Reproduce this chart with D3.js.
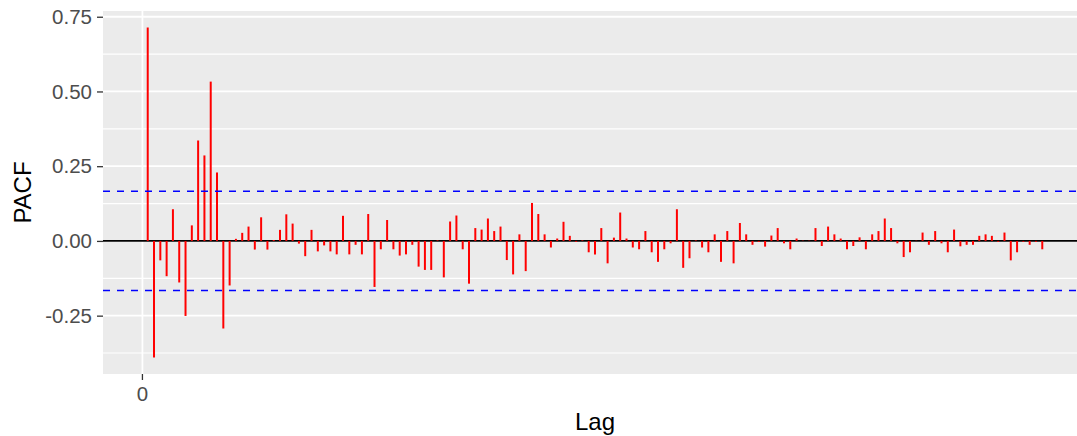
<!DOCTYPE html>
<html>
<head>
<meta charset="utf-8">
<script src="https://cdn.jsdelivr.net/npm/d3@7"></script>
<style>
  html, body { margin: 0; padding: 0; background: #ffffff; }
  svg { display: block; }
</style>
</head>
<body>
<svg id="chart" width="1077" height="436"></svg>
<script>
// ---- data ----
const lags = d3.range(1, 144);
const pacf = [
  0.714, -0.390, -0.065, -0.118, 0.106, -0.139, -0.251, 0.052, 0.336, 0.286,
  0.533, 0.229, -0.293, -0.149, 0.007, 0.027, 0.048, -0.029, 0.079, -0.029,
  0.003, 0.037, 0.089, 0.058, -0.009, -0.051, 0.037, -0.035, -0.015, -0.035,
  -0.045, 0.084, -0.045, -0.013, -0.045, 0.090, -0.154, -0.028, 0.070, -0.028,
  -0.049, -0.045, -0.013, -0.086, -0.097, -0.097, 0.002, -0.122, 0.065, 0.085,
  -0.028, -0.143, 0.043, 0.038, 0.075, 0.033, 0.048, -0.064, -0.112, 0.022,
  -0.101, 0.127, 0.090, 0.022, -0.022, 0.008, 0.064, 0.017, -0.003, 0.002,
  -0.038, -0.045, 0.043, -0.075, 0.011, 0.095, 0.008, -0.022, -0.028, 0.033,
  -0.038, -0.070, -0.028, -0.008, 0.106, -0.090, -0.058, 0.002, -0.022, -0.038,
  0.022, -0.070, 0.033, -0.075, 0.060, 0.022, -0.013, -0.003, -0.019, 0.018,
  0.043, -0.008, -0.028, 0.008, 0.001, 0.001, 0.043, -0.017, 0.048, 0.022,
  0.008, -0.028, -0.017, 0.012, -0.028, 0.022, 0.033, 0.075, 0.043, -0.008,
  -0.054, -0.038, 0.001, 0.028, -0.013, 0.033, -0.008, -0.038, 0.038, -0.018,
  -0.013, -0.013, 0.017, 0.022, 0.017, -0.003, 0.028, -0.065, -0.038, -0.003,
  -0.013, -0.003, -0.028
];
const ciLimit = [0.166, -0.166];
const yTicks = [-0.25, 0, 0.25, 0.5, 0.75];
const yTickLabels = ["-0.25", "0.00", "0.25", "0.50", "0.75"];
const yMinor = [-0.375, -0.125, 0.125, 0.375, 0.625];
const xTicks = [0];
const xTickLabels = ["0"];

// ---- layout ----
const svg = d3.select("#chart");
const panel = { left: 103, right: 1087, top: 11, bottom: 374 };
const font = "'Liberation Sans', Arial, sans-serif";

const xMin = d3.min(lags), xMax = d3.max(lags);
const xPad = (xMax - xMin) * 0.05;
const x = d3.scaleLinear().domain([xMin - xPad, xMax + xPad]).range([panel.left, panel.right]);

const yLo = Math.min(d3.min(pacf), ciLimit[1]);
const yHi = Math.max(d3.max(pacf), ciLimit[0]);
const yPad = (yHi - yLo) * 0.05;
const y = d3.scaleLinear().domain([yLo - yPad, yHi + yPad]).range([panel.bottom, panel.top]);

// panel background
svg.append("rect")
  .attr("x", panel.left).attr("y", panel.top)
  .attr("width", panel.right - panel.left).attr("height", panel.bottom - panel.top)
  .attr("fill", "#EBEBEB");

const grid = svg.append("g");
grid.selectAll("line.minor").data(yMinor).join("line")
  .attr("x1", panel.left).attr("x2", panel.right)
  .attr("y1", d => y(d)).attr("y2", d => y(d))
  .attr("stroke", "#ffffff").attr("stroke-width", 1.2);
grid.selectAll("line.major").data(yTicks).join("line")
  .attr("x1", panel.left).attr("x2", panel.right)
  .attr("y1", d => y(d)).attr("y2", d => y(d))
  .attr("stroke", "#ffffff").attr("stroke-width", 1.8);
grid.selectAll("line.vmajor").data(xTicks).join("line")
  .attr("x1", d => x(d) + 1).attr("x2", d => x(d) + 1)
  .attr("y1", panel.top).attr("y2", panel.bottom)
  .attr("stroke", "#ffffff").attr("stroke-width", 1.8);

// zero line
svg.append("line")
  .attr("x1", panel.left).attr("x2", panel.right)
  .attr("y1", y(0)).attr("y2", y(0))
  .attr("stroke", "#000000").attr("stroke-width", 1.8);

// bars (segments)
svg.append("g").selectAll("line").data(lags).join("line")
  .attr("x1", d => x(d)).attr("x2", d => x(d))
  .attr("y1", y(0)).attr("y2", (d, i) => y(pacf[i]))
  .attr("stroke", "#FF0000").attr("stroke-width", 2);

// confidence limits
svg.append("g").selectAll("line").data(ciLimit).join("line")
  .attr("x1", panel.left).attr("x2", panel.right)
  .attr("y1", d => y(d)).attr("y2", d => y(d))
  .attr("stroke", "#0000FF").attr("stroke-width", 1.6)
  .attr("stroke-dasharray", "7,7");

// y axis
const yAxis = d3.axisLeft(y).tickValues(yTicks)
  .tickFormat((d, i) => yTickLabels[i]).tickSize(6).tickPadding(5);
const gy = svg.append("g").attr("transform", `translate(${panel.left},0)`).call(yAxis);
gy.select(".domain").remove();
gy.selectAll(".tick line").attr("stroke", "#333333").attr("stroke-width", 1.3);
gy.selectAll(".tick text").attr("fill", "#4D4D4D")
  .style("font-family", font).style("font-size", "20.5px");

// x axis
const xAxis = d3.axisBottom(x).tickValues(xTicks)
  .tickFormat((d, i) => xTickLabels[i]).tickSize(6).tickPadding(6);
const gx = svg.append("g").attr("transform", `translate(0,${panel.bottom})`).call(xAxis);
gx.select(".domain").remove();
gx.selectAll(".tick").attr("transform", d => `translate(${x(d) + 1},0)`);
gx.selectAll(".tick line").attr("stroke", "#333333").attr("stroke-width", 1.3);
gx.selectAll(".tick text").attr("fill", "#4D4D4D")
  .style("font-family", font).style("font-size", "20.5px");

// axis titles
svg.append("text")
  .attr("x", (panel.left + panel.right) / 2).attr("y", 430)
  .attr("text-anchor", "middle")
  .style("font-family", font).style("font-size", "24px")
  .attr("fill", "#000000").text("Lag");
svg.append("text")
  .attr("transform", `translate(31,${(panel.top + panel.bottom) / 2}) rotate(-90)`)
  .attr("text-anchor", "middle")
  .style("font-family", font).style("font-size", "24px")
  .attr("fill", "#000000").text("PACF");
</script>
</body>
</html>
